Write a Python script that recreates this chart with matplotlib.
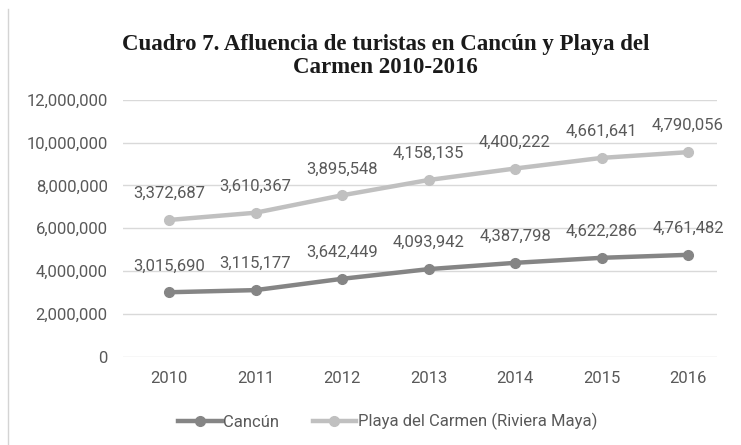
import matplotlib.pyplot as plt
from matplotlib.lines import Line2D
from matplotlib.ticker import FuncFormatter

years = ['2010', '2011', '2012', '2013', '2014', '2015', '2016']
cancun = [3015690, 3115177, 3642449, 4093942, 4387798, 4622286, 4761482]
playa = [3372687, 3610367, 3895548, 4158135, 4400222, 4661641, 4790056]

# Playa del Carmen is stacked on top of Cancún
playa_stacked = [c + p for c, p in zip(cancun, playa)]

dark = '#858585'
light = '#c0c0c0'
text_color = '#595959'
tick_font = ['Roboto', 'DejaVu Sans']
fs = 12

fig = plt.figure(figsize=(7.41, 4.45), dpi=100)
ax = fig.add_axes([0.166, 0.198, 0.8016, 0.578])

x = list(range(len(years)))
ax.plot(x, cancun, color=dark, lw=3.2, marker='o', ms=7, zorder=3)
ax.plot(x, playa_stacked, color=light, lw=3.2, marker='o', ms=7, zorder=3)

for xi, y, v in zip(x, cancun, cancun):
    ax.annotate('{:,}'.format(v), (xi, y), xytext=(0, 19), textcoords='offset points',
                ha='center', va='center', fontsize=fs, color=text_color, family=tick_font)
for xi, y, v in zip(x, playa_stacked, playa):
    ax.annotate('{:,}'.format(v), (xi, y), xytext=(0, 19), textcoords='offset points',
                ha='center', va='center', fontsize=fs, color=text_color, family=tick_font)

ax.set_xlim(-0.532, 6.335)
ax.set_ylim(0, 12000000)
ax.set_yticks(range(0, 12000001, 2000000))
ax.yaxis.set_major_formatter(FuncFormatter(lambda v, p: '{:,}'.format(int(v))))
ax.set_xticks(x)
ax.set_xticklabels(years)
ax.grid(axis='y', color='#d9d9d9', lw=1)
ax.set_axisbelow(True)
for s in ax.spines.values():
    s.set_visible(False)
ax.tick_params(axis='y', length=0, labelsize=fs, colors=text_color, pad=11)
ax.tick_params(axis='x', length=0, labelsize=fs, colors=text_color, pad=10)
for lab in ax.get_xticklabels() + ax.get_yticklabels():
    lab.set_family(tick_font)

fig.text(0.52, 0.874, 'Cuadro 7. Afluencia de turistas en Cancún y Playa del\nCarmen 2010-2016',
         ha='center', va='center', fontsize=16.5, fontweight='bold',
         family='Liberation Serif', linespacing=1.15, color='#1a1a1a')

handles = [Line2D([], [], color=dark, lw=3.2, marker='o', ms=7),
           Line2D([], [], color=light, lw=3.2, marker='o', ms=7)]
fig.legend(handles, ['Cancún', 'Playa del Carmen (Riviera Maya)'], loc='center',
           bbox_to_anchor=(0.523, 0.052), ncol=2, frameon=False, handlelength=2.6,
           columnspacing=2.0, handletextpad=0.1,
           prop={'family': tick_font, 'size': fs}, labelcolor=text_color)

# chart frame edge on the left
fig.add_artist(Line2D([0.011, 0.011], [0.0, 0.98], color='#d4d4d4', lw=1))

fig.savefig('out.png', dpi=100)
